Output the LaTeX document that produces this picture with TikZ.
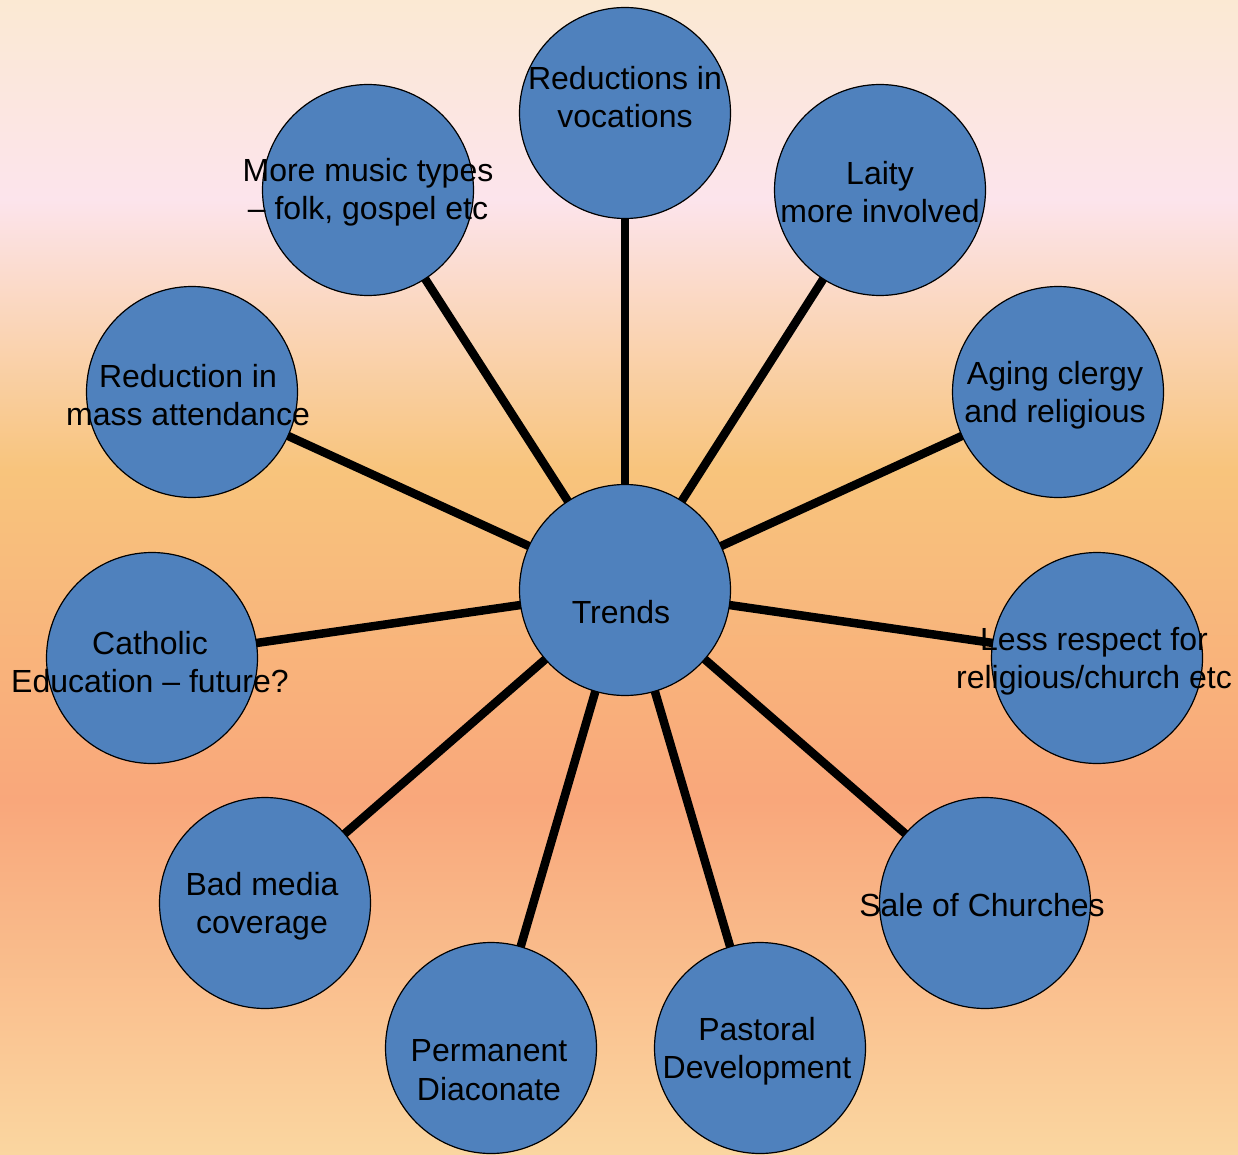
\documentclass[tikz,border=0pt]{standalone}
\usepackage{fontspec}
\setmainfont{Liberation Sans}
\definecolor{bgB}{HTML}{FAD6A0}
\definecolor{bgS}{HTML}{F9A77B}
\definecolor{bgO}{HTML}{F8C47C}
\definecolor{bgP}{HTML}{FCE4EC}
\definecolor{bgT}{HTML}{FBE9D3}
\definecolor{cblue}{HTML}{4F81BD}
\pgfdeclareverticalshading{bgshade}{100bp}{color(0bp)=(bgB); color(25bp)=(bgB); color(40.37bp)=(bgS); color(54.65bp)=(bgO); color(66.35bp)=(bgP); color(75bp)=(bgT); color(100bp)=(bgT)}
\begin{document}
\begin{tikzpicture}[x=1pt,y=-1pt,
  bubble/.style={circle,draw=black,line width=1.2pt,fill=cblue,minimum size=211pt,inner sep=0pt,outer sep=0pt},
  txt/.style={align=center,inner sep=0pt,font=\fontsize{32}{38.5}\selectfont},
  spoke/.style={line width=8.5pt,draw=black}]
\fill[shading=bgshade] (0,0) rectangle (1238,1155);
\useasboundingbox (0,0) rectangle (1238,1155);
\node[bubble] (tr) at (625,590) {};
\node[bubble] (c1) at (625,113) {};
\node[bubble] (c2) at (880,190) {};
\node[bubble] (c3) at (1058,392) {};
\node[bubble] (c4) at (1097,658) {};
\node[bubble] (c5) at (985,903) {};
\node[bubble] (c6) at (760,1048) {};
\node[bubble] (c7) at (491,1048) {};
\node[bubble] (c8) at (265,903) {};
\node[bubble] (c9) at (152,658) {};
\node[bubble] (c10) at (192,392) {};
\node[bubble] (c11) at (368,190) {};
\foreach \c in {c1,c2,c3,c4,c5,c6,c7,c8,c9,c10,c11}{\draw[spoke] (tr) -- (\c);}
\node[txt] (t0) at (621,612) {Trends};
\node[txt] (t1) at (625,97) {Reductions in\\vocations};
\node[txt] (t2) at (880,192) {Laity\\more involved};
\node[txt] (t3) at (1055,395) {Aging clergy\\and religious};
\node[txt] (t4) at (1094,661) {Less respect for\\religious/church etc};
\node[txt] (t5) at (982,905) {Sale of Churches};
\node[txt] (t6) at (757,1051) {Pastoral\\Development};
\node[txt] (t7) at (489,1070) {Permanent\\Diaconate};
\node[txt] (t8) at (262,906) {Bad media\\coverage};
\node[txt] (t9) at (150,662) {Catholic\\Education – future?};
\node[txt] (t10) at (188,395) {Reduction in\\mass attendance};
\node[txt] (t11) at (368,192) {More music types\\– folk, gospel etc};
\end{tikzpicture}
\end{document}
